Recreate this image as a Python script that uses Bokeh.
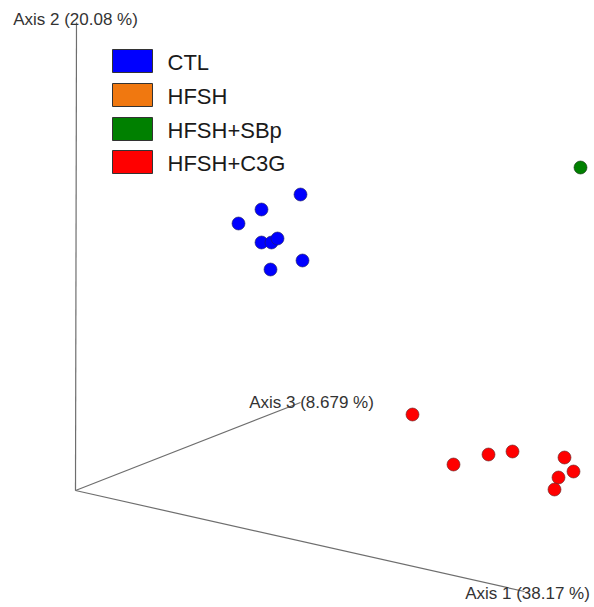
from bokeh.plotting import figure
from bokeh.models import Range1d
from bokeh.embed import file_html
from bokeh.resources import INLINE
from bokeh.core.properties import value

# Groups and colours
groups = ["CTL", "HFSH", "HFSH+SBp", "HFSH+C3G"]
colors = ["#0000ff", "#f07810", "#008000", "#ff0000"]

# Projected sample positions (view coordinates of the 3-D ordination)
ctl_x = [300, 261, 238, 261, 271, 277, 302, 270]
ctl_y = [194, 209, 223, 242, 242, 238, 260, 269]
sbp_x = [580]
sbp_y = [167]
c3g_x = [412, 453, 488, 512, 564, 573, 558, 554]
c3g_y = [414, 464, 454, 451, 457, 471, 477, 489]

# Axes of the ordination: origin and projected end points
axis_labels = ["Axis 1 (38.17 %)", "Axis 2 (20.08 %)", "Axis 3 (8.679 %)"]
origin = (75, 490)
axis_end_x = [524, 76, 300]
axis_end_y = [591, 22, 402]
label_x = [527, 75, 311]
label_y = [593, 19, 402]

W, H = 594, 607
p = figure(width=W, height=H, output_backend="svg", toolbar_location=None,
           x_range=Range1d(0, W), y_range=Range1d(H, 0),
           min_border=0, background_fill_color="white", border_fill_color="white")
p.axis.visible = False
p.grid.visible = False
p.outline_line_color = None

# axis lines
p.segment(x0=[origin[0]] * 3, y0=[origin[1]] * 3, x1=axis_end_x, y1=axis_end_y,
          line_color="#6e6e6e", line_width=1.2)

# samples
p.scatter(ctl_x, ctl_y, size=13, fill_color=colors[0], line_color="#202060", line_width=0.6)
p.scatter(sbp_x, sbp_y, size=13, fill_color=colors[2], line_color="#103010", line_width=0.6)
p.scatter(c3g_x, c3g_y, size=13, fill_color=colors[3], line_color="#602020", line_width=0.6)

# axis labels
p.text(x=label_x, y=label_y, text=axis_labels, text_align="center", text_baseline="middle",
       text_font=value("Liberation Sans"), text_font_size="17px", text_color="#333333")

# legend
leg_y = [60.5, 94.5, 128.5, 161.5]
p.rect(x=[132] * 4, y=leg_y, width=40, height=23, fill_color=colors,
       line_color="#333333", line_width=1)
p.text(x=[167] * 4, y=[v + 1 for v in leg_y], text=groups, text_align="left",
       text_baseline="middle", text_font=value("Liberation Sans"),
       text_font_size="22px", text_color="#1a1a1a")

open("out.html", "w").write(file_html(p, INLINE))
